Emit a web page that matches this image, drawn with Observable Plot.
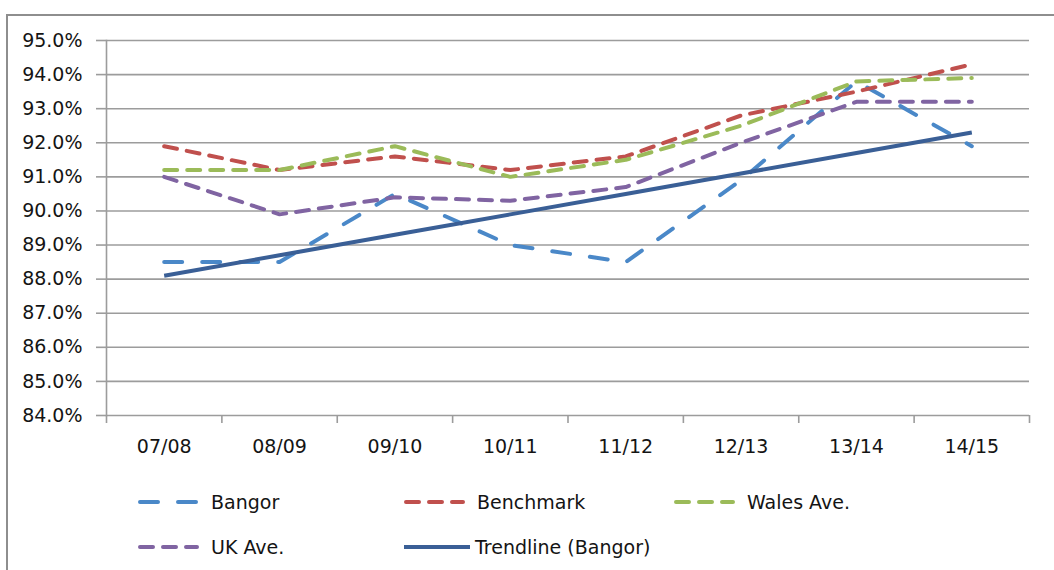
<!DOCTYPE html>
<html>
<head>
<meta charset="utf-8">
<script src="https://cdn.jsdelivr.net/npm/d3@7"></script>
<script src="https://cdn.jsdelivr.net/npm/@observablehq/plot@0.6"></script>
<style>
  html, body { margin: 0; padding: 0; background: #fff; }
  #wrap { position: relative; width: 1054px; height: 570px; overflow: hidden; font-family: "DejaVu Sans", sans-serif; color: #141414; }
  #border { position: absolute; left: 6px; top: 14px; width: 1200px; height: 700px; border-left: 2px solid #8e8e8e; border-top: 2px solid #8e8e8e; }
  #chart { position: absolute; left: 0; top: 0; }
  #legend { position: absolute; left: 138px; top: 479px; display: grid; grid-template-columns: 266px 270px auto; grid-auto-rows: 45px; font-size: 19px; }
  .item { display: flex; align-items: center; white-space: nowrap; }
  .item svg { margin-right: 12px; flex: none; }
</style>
</head>
<body>
<div id="wrap">
  <div id="border"></div>
  <div id="chart"></div>
  <div id="legend"></div>
</div>
<script>
const categories = ["07/08", "08/09", "09/10", "10/11", "11/12", "12/13", "13/14", "14/15"];
const bangor     = [88.5, 88.5, 90.5, 89.0, 88.5, 90.9, 93.8, 91.9];
const benchmark  = [91.9, 91.2, 91.6, 91.2, 91.6, 92.8, 93.5, 94.3];
const walesAve   = [91.2, 91.2, 91.9, 91.0, 91.5, 92.5, 93.8, 93.9];
const ukAve      = [91.0, 89.9, 90.4, 90.3, 90.7, 92.0, 93.2, 93.2];
const trendline  = [88.1, 88.7, 89.3, 89.9, 90.5, 91.1, 91.7, 92.3];
const yTicks     = [84, 85, 86, 87, 88, 89, 90, 91, 92, 93, 94, 95];

const seriesNames  = ["Bangor", "Benchmark", "Wales Ave.", "UK Ave.", "Trendline (Bangor)"];
const seriesValues = [bangor, benchmark, walesAve, ukAve, trendline];
const seriesColors = ["#4a88c8", "#c0504d", "#9bbb59", "#8064a2", "#3a5f96"];
const seriesDashes = ["18,20", "13,10", "13,10", "13,10", null];

const n = categories.length;
const gridColor = "#9c9c9c";

const lineMarks = seriesNames.map((name, k) =>
  Plot.line(seriesValues[k].map((v, i) => ({i, v})), {
    x: "i", y: "v",
    stroke: seriesColors[k],
    strokeWidth: 4,
    strokeDasharray: seriesDashes[k] || undefined,
    strokeLinecap: seriesDashes[k] ? "round" : "butt",
    strokeLinejoin: "round"
  })
);

const chart = Plot.plot({
  width: 1054,
  height: 470,
  marginLeft: 106,
  marginRight: 25,
  marginTop: 40,
  marginBottom: 55,
  style: { fontFamily: "DejaVu Sans", fontSize: "19px", color: "#141414", background: "transparent", overflow: "visible" },
  x: { domain: [-0.5, n - 0.5], axis: null, label: null },
  y: { domain: [84, 95], axis: null, label: null },
  marks: [
    Plot.gridY(yTicks, { stroke: gridColor, strokeOpacity: 1, strokeWidth: 1.6 }),
    Plot.axisY(yTicks, { tickSize: 10, tickPadding: 14, stroke: gridColor, strokeWidth: 1.6, label: null, tickFormat: d => d.toFixed(1) + "%" }),
    Plot.frame({ anchor: "left", stroke: gridColor, strokeWidth: 1.6 }),
    Plot.axisX(d3.range(n + 1).map(i => i - 0.5), { tickSize: 8, stroke: gridColor, strokeWidth: 1.6, tickFormat: () => "", label: null }),
    Plot.axisX(d3.range(n), { tickSize: 0, tickPadding: 24, label: null, tickFormat: i => categories[i] }),
    ...lineMarks
  ]
});
document.getElementById("chart").appendChild(chart);

// Legend
const legend = document.getElementById("legend");
seriesNames.forEach((name, k) => {
  const item = document.createElement("div");
  item.className = "item";
  const dash = seriesDashes[k];
  const w = dash ? 61 : 66;
  item.innerHTML =
    `<svg width="${w}" height="10"><line x1="${dash ? 2 : 0}" x2="${dash ? w - 2 : w}" y1="5" y2="5" stroke="${seriesColors[k]}" stroke-width="4" ${dash ? `stroke-dasharray="${dash}" stroke-linecap="round"` : ""}/></svg><span>${name}</span>`;
  if (!dash) item.querySelector("svg").style.marginRight = "5px";
  legend.appendChild(item);
});
</script>
</body>
</html>
